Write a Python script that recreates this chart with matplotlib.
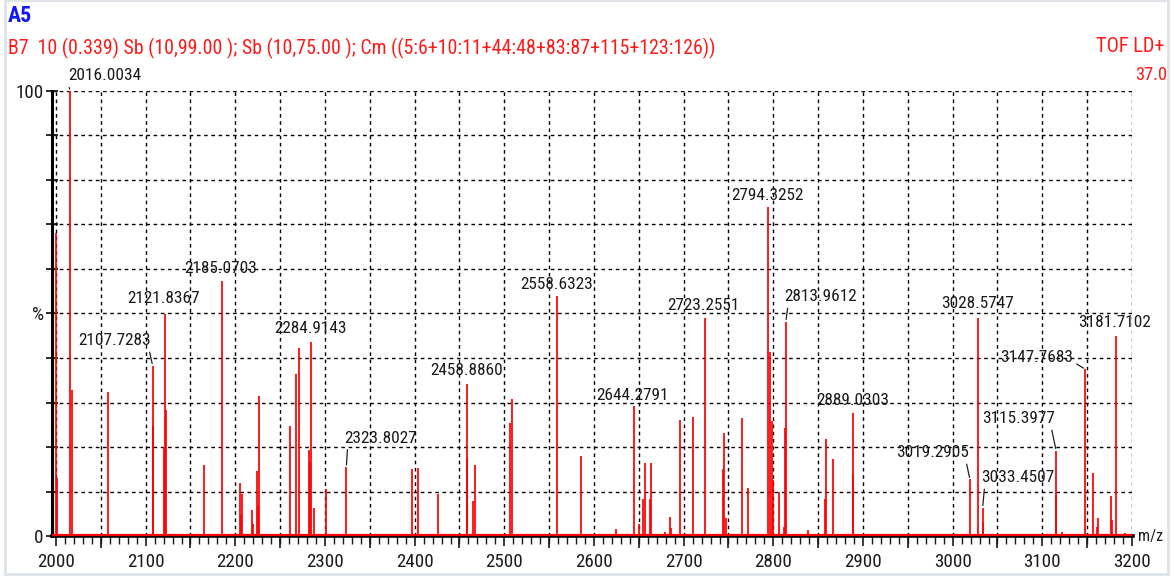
import matplotlib
matplotlib.use("Agg")
import matplotlib.pyplot as plt
import matplotlib.transforms as mtransforms
from matplotlib.patches import Rectangle
from matplotlib import font_manager
from matplotlib.font_manager import FontProperties

# ---- spectrum data -------------------------------------------------------
# annotated peaks (m/z, relative intensity %)
labeled_mz = [2016.0034, 2107.7283, 2121.8367, 2185.0703, 2284.9143, 2323.8027,
              2458.8860, 2558.6323, 2644.2791, 2723.2551, 2794.3252, 2813.9612,
              2889.0303, 3019.2905, 3028.5747, 3033.4507, 3115.3977, 3147.7683,
              3181.7102]
labeled_int = [100.0, 38.3, 49.9, 57.2, 43.7, 15.5,
               34.2, 53.9, 29.2, 48.9, 73.9, 48.2,
               27.6, 12.7, 48.9, 6.4, 19.2, 37.5,
               44.9]

# remaining peaks without annotation
other_mz = [2000.4, 2001.0, 2017.5, 2058.0, 2108.5, 2120.6, 2123.0, 2164.7, 2199.0,
            2205.2, 2206.7, 2207.8, 2218.6, 2219.7, 2223.8, 2225.0, 2226.4, 2261.0,
            2267.7, 2270.6, 2282.5, 2283.8, 2287.5, 2301.1, 2396.6, 2403.3, 2426.0,
            2458.0, 2465.6, 2467.6, 2506.7, 2508.2, 2585.5, 2624.5, 2649.8, 2655.0,
            2656.5, 2662.0, 2663.5, 2678.8, 2684.7, 2685.8, 2695.5, 2710.0, 2743.5,
            2745.0, 2747.5, 2765.0, 2771.7, 2795.9, 2798.5, 2799.6, 2806.3, 2812.2,
            2813.0, 2838.2, 2857.6, 2858.7, 2866.9, 2888.5, 3034.0, 3115.0, 3121.5,
            3156.1, 3160.6, 3161.6, 3176.2, 3177.3, 3192.6]
other_int = [68.0, 13.0, 32.9, 32.4, 24.7, 20.0, 28.3, 15.9, 0.5,
             12.0, 4.7, 9.4, 5.8, 2.6, 14.6, 6.9, 31.4, 24.7,
             36.4, 42.3, 19.3, 16.7, 6.2, 10.5, 15.0, 15.3, 9.5,
             17.2, 7.9, 16.0, 25.3, 30.7, 18.0, 1.5, 2.6, 8.3,
             16.5, 8.3, 16.5, 1.0, 4.2, 1.7, 26.1, 26.8, 15.0,
             23.1, 4.1, 26.5, 10.7, 41.4, 25.9, 12.6, 10.0, 2.1,
             24.2, 1.3, 8.3, 21.9, 17.2, 13.7, 3.0, 9.2, 1.0,
             14.2, 2.1, 4.0, 9.1, 3.7, 0.7]

x_tick_values = list(range(2000, 3201, 100))
x_tick_labels = [str(v) for v in x_tick_values]
y_tick_labels = {0: "0", 50: "%", 100: "100"}

title_id = "A5"
scan_info = "B7  10 (0.339) Sb (10,99.00 ); Sb (10,75.00 ); Cm ((5:6+10:11+44:48+83:87+115+123:126))"
mode_text = "TOF LD+"
scale_text = "37.0"

# label placement: text centre offset from the peak top (pixels) and leader anchor
label_offsets = {
    2016.0034: (34, 15, (0.0, 0.0)),
    2107.7283: (-38, 25, (0.97, 0.0)),
    2121.8367: (-2, 15, None),
    2185.0703: (-1, 13, None),
    2284.9143: (-1, 13, None),
    2323.8027: (34, 29, (0.05, 0.0)),
    2458.8860: (-1, 13, None),
    2558.6323: (0, 12, None),
    2644.2791: (-1, 11, None),
    2723.2551: (-1, 13, None),
    2794.3252: (-1, 12, None),
    2813.9612: (35, 25, (0.05, 0.0)),
    2889.0303: (0, 13, None),
    3019.2905: (-37, 27, (0.95, 0.0)),
    3028.5747: (-1, 15, None),
    3033.4507: (35, 30, (0.05, 0.0)),
    3115.3977: (-38, 32, (0.95, 0.0)),
    3147.7683: (-49, 12, (1.0, 0.2)),
    3181.7102: (-1, 14, None),
}


# ---- fonts -----------------------------------------------------------------
NARROW_NAMES = ["Liberation Sans Narrow", "Arial Narrow", "Roboto Condensed",
                "Open Sans Condensed", "Nimbus Sans Narrow", "Noto Sans Condensed"]


def _is_weight(f, bold):
    w = f.weight
    if isinstance(w, str):
        return (w == "bold") if bold else (w in ("normal", "regular"))
    return (w == 700) if bold else (w == 400)


def pick_narrow_font(bold=False, fallback_family="Liberation Sans"):
    entries = font_manager.fontManager.ttflist
    for name in NARROW_NAMES:
        for f in entries:
            if f.name == name and f.style == "normal" and _is_weight(f, bold):
                return FontProperties(fname=f.fname)
    for f in entries:
        if f.stretch in ("condensed", "semi-condensed", "extra-condensed") and \
                f.style == "normal" and _is_weight(f, bold):
            return FontProperties(fname=f.fname)
    return FontProperties(family=fallback_family, weight="bold" if bold else "normal")


base_font = pick_narrow_font()
bold_font = pick_narrow_font(bold=True)
plt.rcParams["font.family"] = ["Liberation Sans", "DejaVu Sans"]

W, H = 1174, 580
fig = plt.figure(figsize=(W / 100, H / 100), dpi=100)
fig.patch.set_facecolor("white")
renderer = fig.canvas.get_renderer()


def sized(text, width_px, fp=base_font):
    """Font properties whose rendered width of `text` is about width_px."""
    p = fp.copy()
    p.set_size(10)
    t = fig.text(0, 0, text, fontproperties=p)
    w = t.get_window_extent(renderer).width
    t.remove()
    p.set_size(10 * width_px / w)
    return p


label_fp = sized("2016.0034", 72)
tick_fp = sized("2000", 37)
head_fp = sized(scan_info, 702)
mode_fp = sized(mode_text, 69)
scale_fp = sized(scale_text, 32)
unit_fp = sized("m/z", 25)
title_fp = sized(title_id, 24, bold_font)

# thin frame around the whole panel
fig.add_artist(Rectangle((5 / W, 6 / H), 1163 / W, 1 - 6 / H, transform=fig.transFigure,
                         fill=False, edgecolor="#dfe3ea", lw=2.0))

ax = fig.add_axes([52 / W, 44 / H, 1080 / W, 445 / H])
ax.set_xlim(1995.54, 3200)
ax.set_ylim(0, 100)
ax.set_facecolor("white")

for s in ("top", "right"):
    ax.spines[s].set_visible(False)
ax.spines["left"].set_linewidth(2.2)
ax.spines["bottom"].set_linewidth(2.6)
ax.spines["bottom"].set_bounds(1995.54, 3201.5)

# dashed grid
dash = dict(color="black", lw=1.0, linestyle=(0, (2.6, 2.6)), zorder=1)
for gx in range(2000, 3201, 50):
    ax.axvline(gx, **dash)
for gy in range(10, 101, 10):
    ax.axhline(gy, **dash)

# spectrum
red = "#ff0000"
ax.vlines(other_mz, 0, other_int, color=red, lw=1.25, zorder=3)
ax.vlines(labeled_mz, 0, labeled_int, color=red, lw=1.25, zorder=3)
ax.plot([1996.5, 3199], [0.25, 0.25], color=red, lw=1.6, zorder=4, clip_on=False)

# x axis ticks
ax.set_xticks(x_tick_values)
ax.set_xticklabels(x_tick_labels, fontproperties=tick_fp)
ax.set_xticks(range(2000, 3201, 10), minor=True)
ax.tick_params(axis="x", which="major", direction="out", length=7, width=1.2,
               pad=5, colors="#1a1a1a")
ax.tick_params(axis="x", which="minor", direction="out", length=6, width=1.0, colors="#1a1a1a")
trans = mtransforms.blended_transform_factory(ax.transData, ax.transAxes)
ax.vlines(range(2050, 3200, 100), -12 / 445, 0, transform=trans, color="#1a1a1a",
          lw=1.2, clip_on=False)

# y axis ticks
ax.set_yticks(range(0, 101, 10))
ax.set_yticklabels([y_tick_labels.get(v, "") for v in range(0, 101, 10)],
                   fontproperties=tick_fp)
ax.tick_params(axis="y", direction="inout", length=8, width=1.3, pad=2, colors="#1a1a1a")

ax.text(1.006, 0.0, "m/z", transform=ax.transAxes, ha="left", va="center",
        fontproperties=unit_fp, color="#1a1a1a")

# peak annotations
for mz, h in zip(labeled_mz, labeled_int):
    dx, dy, rel = label_offsets[mz]
    props = None
    if rel is not None:
        props = dict(arrowstyle="-", color="#202020", lw=0.9, relpos=rel,
                     shrinkA=1, shrinkB=1.5)
    ax.annotate(f"{mz:.4f}", xy=(mz, h), xytext=(dx, dy), textcoords="offset pixels",
                ha="center", va="center", fontproperties=label_fp, color="#1a1a1a",
                arrowprops=props, annotation_clip=False, zorder=5)

# header
fig.text(8 / W, 1 - 16 / H, title_id, color="#1414ff", fontproperties=title_fp,
         ha="left", va="center")
fig.text(8 / W, 1 - 48 / H, scan_info, color="#ff1a1a", fontproperties=head_fp,
         ha="left", va="center")
fig.text(1165 / W, 1 - 46 / H, mode_text, color="#ff1a1a", fontproperties=mode_fp,
         ha="right", va="center")
fig.text(1167 / W, 1 - 75 / H, scale_text, color="#ff1a1a", fontproperties=scale_fp,
         ha="right", va="center")

fig.savefig("out.png", dpi=100)
